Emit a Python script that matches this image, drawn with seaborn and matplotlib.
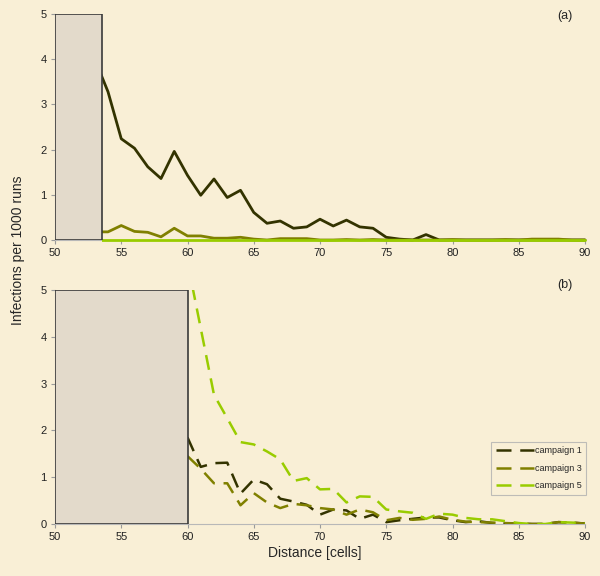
import matplotlib
matplotlib.use("Agg")
import matplotlib.pyplot as plt
from matplotlib.transforms import Bbox, TransformedBbox
import seaborn as sns
import pandas as pd
import numpy as np

# ---- data ----
campaigns = ["campaign 1", "campaign 3", "campaign 5"]
x_top = list(range(53, 91))
c1_top = [4.0, 3.28, 2.24, 2.03, 1.62, 1.36, 1.96, 1.43, 0.99, 1.35, 0.94, 1.10,
          0.61, 0.37, 0.42, 0.26, 0.29, 0.46, 0.31, 0.44, 0.29, 0.26, 0.06, 0.02,
          0.0, 0.12, 0.0, 0.0, 0.0, 0.0, 0.0, 0.0, 0.0, 0.0, 0.0, 0.0, 0.0, 0.0]
c3_top = [0.18, 0.18, 0.32, 0.19, 0.17, 0.07, 0.26, 0.09, 0.09, 0.04, 0.04, 0.06,
          0.02, 0.0, 0.03, 0.03, 0.03, 0.0, 0.0, 0.01, 0.0, 0.01, 0.0, 0.0,
          0.0, 0.0, 0.0, 0.01, 0.0, 0.0, 0.0, 0.01, 0.0, 0.02, 0.02, 0.02, 0.0, 0.0]
c5_top = [0.0] * 38

x_bot = list(range(60, 91))
c1_bot = [1.85, 1.22, 1.30, 1.31, 0.65, 0.95, 0.85, 0.54, 0.48, 0.41, 0.20, 0.31,
          0.29, 0.11, 0.20, 0.04, 0.08, 0.11, 0.14, 0.14, 0.08, 0.04, 0.06, 0.02,
          0.01, 0.01, 0.0, 0.0, 0.04, 0.03, 0.01]
c3_bot = [1.45, 1.18, 0.87, 0.87, 0.40, 0.66, 0.46, 0.34, 0.43, 0.40, 0.34, 0.31,
          0.20, 0.31, 0.25, 0.08, 0.13, 0.09, 0.11, 0.16, 0.09, 0.05, 0.04, 0.03,
          0.02, 0.01, 0.0, 0.0, 0.04, 0.03, 0.01]
c5_bot = [5.6, 4.18, 2.76, 2.26, 1.75, 1.70, 1.55, 1.38, 0.92, 0.98, 0.74, 0.75,
          0.46, 0.59, 0.58, 0.31, 0.27, 0.24, 0.11, 0.22, 0.20, 0.13, 0.10, 0.10,
          0.06, 0.02, 0.0, 0.0, 0.04, 0.03, 0.02]

x_ticks = [50, 55, 60, 65, 70, 75, 80, 85, 90]
y_ticks = [0, 1, 2, 3, 4, 5]

def long_df(x, series):
    rows = []
    for name, vals in zip(campaigns, series):
        for xi, v in zip(x, vals):
            rows.append({"distance": xi, "value": v, "campaign": name})
    return pd.DataFrame(rows)

df_top = long_df(x_top, [c1_top, c3_top, c5_top])
df_bot = long_df(x_bot, [c1_bot, c3_bot, c5_bot])

# ---- style ----
sns.set_style("ticks")
plt.rcParams["font.family"] = ["Liberation Sans", "DejaVu Sans"]
bg = "#F9EFD6"
palette = {"campaign 1": "#333300", "campaign 3": "#808000", "campaign 5": "#99CC00"}

fig = plt.figure(figsize=(6.0, 5.76), dpi=100, facecolor=bg)
ax1 = fig.add_axes([55/600, 1-240/576, 530/600, 226/576])
ax2 = fig.add_axes([55/600, 1-524/576, 530/600, 234/576])

for ax in (ax1, ax2):
    ax.set_facecolor(bg)

sns.lineplot(data=df_top, x="distance", y="value", hue="campaign",
             palette=palette, linewidth=2.0, legend=False, ax=ax1, zorder=3)
sns.lineplot(data=df_bot, x="distance", y="value", hue="campaign", style="campaign",
             palette=palette, dashes={c: (6, 3.5) for c in campaigns},
             linewidth=1.8, ax=ax2, zorder=3)

for ax in (ax1, ax2):
    ax.set_xlim(50, 90)
    ax.set_ylim(0, 5)

# let the top-panel lines show fully along the baseline, but only right of the box
clip = TransformedBbox(Bbox([[53.55, -0.3], [91, 5]]), ax1.transData)
for ln in ax1.lines:
    ln.set_clip_box(clip)
    ln.set_clip_on(True)

ax1.axvspan(50, 53.55, facecolor="#E3DACB", edgecolor="#3a3a3a", linewidth=1.2, zorder=4)
ax2.axvspan(50, 60, facecolor="#E3DACB", edgecolor="#3a3a3a", linewidth=1.2, zorder=4)

for ax in (ax1, ax2):
    ax.set_xticks(x_ticks)
    ax.set_xticklabels([str(t) for t in x_ticks])
    ax.set_yticks(y_ticks)
    ax.set_yticklabels([str(t) for t in y_ticks])
    ax.tick_params(axis="both", labelsize=8, length=3, width=0.8, color="#9a9a9a",
                   pad=3, labelcolor="#222222")
    for s in ("top", "right"):
        ax.spines[s].set_visible(False)
    for s in ("left", "bottom"):
        ax.spines[s].set_color("#b8b8b8")
        ax.spines[s].set_linewidth(0.8)
    ax.set_xlabel("")
    ax.set_ylabel("")

ax1.text(0.962, 0.99, "(a)", transform=ax1.transAxes, ha="center", va="center", fontsize=9)
ax2.text(0.962, 1.02, "(b)", transform=ax2.transAxes, ha="center", va="center", fontsize=9)

leg = ax2.legend(loc="lower right", bbox_to_anchor=(1.002, 0.124), fontsize=6.5,
                 frameon=True, fancybox=False, handlelength=4.2, handletextpad=0.1,
                 borderpad=0.5, labelspacing=0.95, borderaxespad=0, title=None)
leg.get_frame().set_facecolor(bg)
leg.get_frame().set_edgecolor("#b0b0b0")
leg.get_frame().set_linewidth(0.8)

fig.text(18/600, 1-250/576, "Infections per 1000 runs", rotation=90,
         ha="center", va="center", fontsize=10)
fig.text(315/600, 1-553/576, "Distance [cells]", ha="center", va="center", fontsize=10)

fig.savefig("out.png", dpi=100, facecolor=bg)
